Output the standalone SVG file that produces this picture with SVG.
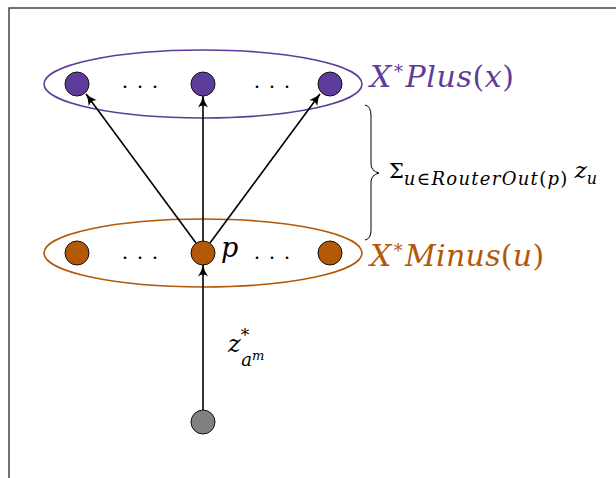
<svg xmlns="http://www.w3.org/2000/svg" width="616" height="478" viewBox="0 0 616 478">
<defs>
<style>
.frame{fill:none;stroke:#444;stroke-width:1.5}
.node{stroke:#111;stroke-width:1}
.pur{fill:#5e3c99}
.org{fill:#b35806}
.gry{fill:#808080}
.edge{stroke:#000;stroke-width:1.6;fill:none;marker-end:url(#ah)}
.m{font-family:"DejaVu Serif","Liberation Serif",serif;font-style:italic}
.r{font-family:"DejaVu Serif","Liberation Serif",serif;font-style:normal}
.dots{font-family:"Liberation Serif",serif;font-size:22px;fill:#000}
</style>
<marker id="ah" viewBox="0 0 12 10" refX="11.5" refY="5" markerWidth="12" markerHeight="10" orient="auto" markerUnits="userSpaceOnUse">
<path d="M0,0 Q6,4 12,5 Q6,6 0,10 Q4,5 0,0 z" fill="#000"/>
</marker>
</defs>
<rect width="616" height="478" fill="#fff"/>
<path class="frame" d="M9,478 V8 H616"/>
<g id="plus-set">
<ellipse cx="203" cy="84" rx="159" ry="34" fill="none" stroke="#5e3c99" stroke-width="1.6"/>
<text class="dots" x="125 140 155" y="88" text-anchor="middle">...</text>
<text class="dots" x="257 272 287" y="88" text-anchor="middle">...</text>
<text class="m" x="370" y="87" font-size="30" letter-spacing="0.6" fill="#5e3c99">X<tspan class="r" font-size="18" dx="2" dy="-9">*</tspan><tspan dx="2" dy="9">Plus</tspan><tspan class="r">(</tspan>x<tspan class="r">)</tspan></text>
</g>
<g id="plus1"><circle class="node pur" cx="77" cy="84" r="12"/></g>
<g id="plus2"><circle class="node pur" cx="203" cy="84" r="12"/></g>
<g id="plus3"><circle class="node pur" cx="330" cy="84" r="12"/></g>
<g id="minus-set">
<ellipse cx="203" cy="253" rx="159" ry="34" fill="none" stroke="#b35806" stroke-width="1.6"/>
<text class="dots" x="125 140 155" y="259" text-anchor="middle">...</text>
<text class="dots" x="257 272 287" y="259" text-anchor="middle">...</text>
<text class="m" x="370" y="266" font-size="30" letter-spacing="0.3" fill="#b35806">X<tspan class="r" font-size="18" dx="2" dy="-9">*</tspan><tspan dx="2" dy="9">Minus</tspan><tspan class="r">(</tspan>u<tspan class="r">)</tspan></text>
</g>
<g id="minus1"><circle class="node org" cx="77" cy="253" r="12"/></g>
<g id="p"><circle class="node org" cx="203" cy="253" r="12"/>
<text class="m" x="221" y="257" font-size="27" fill="#000">p</text></g>
<g id="minus3"><circle class="node org" cx="330" cy="253" r="12"/></g>
<g id="source"><circle class="node gry" cx="203" cy="422" r="12"/></g>
<g id="connectors">
<line class="edge" x1="196" y1="243" x2="86" y2="94"/>
<line class="edge" x1="203" y1="241" x2="203" y2="96"/>
<line class="edge" x1="210" y1="243" x2="320" y2="94"/>
<line class="edge" x1="203" y1="410" x2="203" y2="265"/>
</g>
<g id="brace">
<path d="M365,105 Q371,106 371,116 L371,164 Q371,171 379,173 Q371,175 371,182 L371,230 Q371,239 365,240" fill="none" stroke="#000" stroke-width="1"/>
<text class="r" x="389" y="178" font-size="21" fill="#000">Σ<tspan class="m" font-size="18" letter-spacing="1.3" dy="7">u<tspan class="r">∈</tspan>RouterOut<tspan class="r">(</tspan>p<tspan class="r">)</tspan></tspan><tspan class="m" font-size="23" dx="6" dy="-7">z</tspan><tspan class="m" font-size="16" dy="6">u</tspan></text>
</g>
<g id="zlabel" fill="#000">
<text class="m" x="228" y="352" font-size="24">z<tspan class="r" font-size="17" dy="-11">*</tspan><tspan font-size="18" dx="-8" dy="25">a</tspan><tspan font-size="13" dy="-6">m</tspan></text>
</g>
</svg>
